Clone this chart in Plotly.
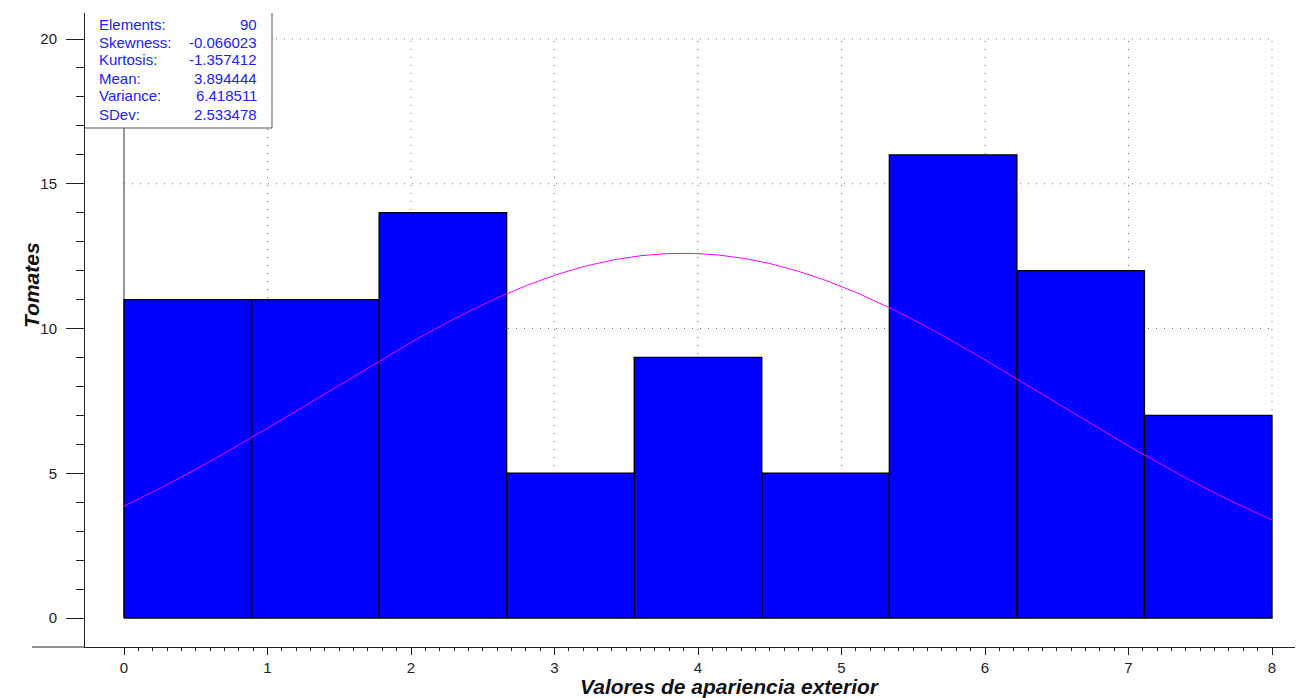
import numpy as np
import plotly.graph_objects as go

# Histogram of exterior-appearance scores for 90 tomatoes
bin_start = 0.0
bin_end = 8.0
counts = [11, 11, 14, 5, 9, 5, 16, 12, 7]

# Summary statistics panel
stat_names = ["Elements:", "Skewness:", "Kurtosis:", "Mean:", "Variance:", "SDev:"]
stat_values = ["90", "-0.066023", "-1.357412", "3.894444", "6.418511", "2.533478"]

x_ticks = [0, 1, 2, 3, 4, 5, 6, 7, 8]
y_ticks = [0, 5, 10, 15, 20]

x_title = "Valores de apariencia exterior"
y_title = "Tomates"

# ---- figure geometry (pixels) ----
W, H = 1308, 698
ML, MR, MT, MB = 85, 13, 13, 51
PW, PH = W - ML - MR, H - MT - MB

def px_to_paper_x(px):
    return (px - ML) / PW

def px_to_paper_y(py):
    return (H - MB - py) / PH

n_bins = len(counts)
edges = np.linspace(bin_start, bin_end, n_bins + 1)
width = edges[1] - edges[0]
centers = (edges[:-1] + edges[1:]) / 2

n_total = int(stat_values[0])
mean = float(stat_values[3])
sdev = float(stat_values[5])
xc = np.linspace(bin_start, bin_end, 400)
yc = n_total * width * np.exp(-0.5 * ((xc - mean) / sdev) ** 2) / (sdev * np.sqrt(2 * np.pi))

# outline of every bar as a closed rectangle, separated by gaps
ox, oy = [], []
for lo, hi, c in zip(edges[:-1], edges[1:], counts):
    ox += [lo, lo, hi, hi, lo, None]
    oy += [0, c, c, 0, 0, None]

fig = go.Figure()
fig.add_trace(go.Bar(
    x=centers, y=counts, width=width,
    marker=dict(color="#0000FF", line=dict(width=0)),
    hoverinfo="x+y",
))
fig.add_trace(go.Scatter(
    x=ox, y=oy, mode="lines",
    line=dict(color="#000000", width=1.3),
    hoverinfo="skip", connectgaps=False,
))
fig.add_trace(go.Scatter(
    x=xc, y=yc, mode="lines",
    line=dict(color="#FF00FF", width=1),
    hoverinfo="skip",
))

shapes = []
grid_style = dict(color="#666666", width=1, dash="1px,7px")
for v in y_ticks[1:]:
    shapes.append(dict(type="line", xref="x", yref="y", x0=x_ticks[0], x1=x_ticks[-1],
                       y0=v, y1=v, line=grid_style, layer="below"))
for v in x_ticks[1:]:
    shapes.append(dict(type="line", xref="x", yref="y", x0=v, x1=v,
                       y0=y_ticks[0], y1=y_ticks[-1], line=grid_style, layer="below"))
# solid line at the origin of the x scale
shapes.append(dict(type="line", xref="x", yref="y", x0=x_ticks[0], x1=x_ticks[0],
                   y0=y_ticks[0], y1=y_ticks[-1], line=dict(color="#333333", width=1),
                   layer="below"))
# x axis line continues to the left of the y axis
shapes.append(dict(type="line", xref="paper", yref="paper", x0=px_to_paper_x(32), x1=0,
                   y0=0, y1=0, line=dict(color="#222222", width=1)))

# statistics panel
bx0, bx1 = px_to_paper_x(ML), px_to_paper_x(272)
by0, by1 = px_to_paper_y(128), 1.0
shapes.append(dict(type="rect", xref="paper", yref="paper", x0=bx0, x1=bx1, y0=by0, y1=by1,
                   fillcolor="white", line=dict(width=0), layer="above"))
shapes.append(dict(type="path", xref="paper", yref="paper",
                   path=f"M {bx1} {by1} L {bx1} {by0} L {bx0} {by0}",
                   line=dict(color="#555555", width=1), layer="above"))

annotations = []
stat_font = dict(family="Liberation Sans, Arial", size=15, color="#2020ff")
for i, (name, val) in enumerate(zip(stat_names, stat_values)):
    ypos = px_to_paper_y(24 + 18 * i)
    annotations.append(dict(xref="paper", yref="paper", x=px_to_paper_x(97), y=ypos,
                            text=name, showarrow=False, xanchor="left", yanchor="middle",
                            font=stat_font))
    annotations.append(dict(xref="paper", yref="paper", x=px_to_paper_x(259), y=ypos,
                            text=val, showarrow=False, xanchor="right", yanchor="middle",
                            font=stat_font))

title_font = dict(family="Liberation Sans, Arial", size=21, color="#111111",
                  weight="bold", style="italic")
annotations.append(dict(xref="paper", yref="paper", x=px_to_paper_x(730), y=px_to_paper_y(686),
                        text=x_title, showarrow=False, xanchor="center", yanchor="middle",
                        font=title_font))
annotations.append(dict(xref="paper", yref="paper", x=px_to_paper_x(31), y=px_to_paper_y(285),
                        text=y_title, showarrow=False, xanchor="center", yanchor="middle",
                        textangle=-90, font=title_font))

# axis ranges so that the data window sits where it should in the frame
x_px0, x_px1 = 124, 1272
y_px0, y_px1 = 618, 39
xs = (x_ticks[-1] - x_ticks[0]) / (x_px1 - x_px0)
ys = (y_ticks[-1] - y_ticks[0]) / (y_px0 - y_px1)
x_range = [x_ticks[0] - (x_px0 - ML) * xs, x_ticks[-1] + (W - MR - x_px1) * xs]
y_range = [y_ticks[0] - (H - MB - y_px0) * ys, y_ticks[-1] + (y_px1 - MT) * ys]

x_minor = [round(v, 1) for v in np.arange(0, 80 + 1) / 10 if abs(v - round(v)) > 1e-9]
y_minor = [v for v in range(y_ticks[0], y_ticks[-1] + 1) if v % 5 != 0]

tick_font = dict(family="Liberation Sans, Arial", size=15, color="#222222")
fig.update_layout(
    width=W, height=H,
    margin=dict(l=ML, r=MR, t=MT, b=MB, pad=0),
    paper_bgcolor="white", plot_bgcolor="white",
    showlegend=False,
    bargap=0,
    shapes=shapes,
    annotations=annotations,
    xaxis=dict(
        range=x_range, showgrid=False, zeroline=False,
        showline=True, linecolor="#222222", linewidth=1,
        tickmode="array", tickvals=x_ticks, ticktext=[str(t) for t in x_ticks],
        ticks="outside", ticklen=7, tickcolor="#222222", tickwidth=1,
        tickfont=tick_font,
        minor=dict(tickmode="array", tickvals=x_minor, ticks="outside", ticklen=3,
                   tickcolor="#222222", tickwidth=1, showgrid=False),
    ),
    yaxis=dict(
        range=y_range, showgrid=False, zeroline=False,
        showline=True, linecolor="#222222", linewidth=1,
        tickmode="array", tickvals=y_ticks, ticktext=[str(t) for t in y_ticks],
        ticks="outside", ticklen=18, tickcolor="#222222", tickwidth=1,
        tickfont=tick_font, ticklabelstandoff=6,
        minor=dict(tickmode="array", tickvals=y_minor, ticks="outside", ticklen=8,
                   tickcolor="#222222", tickwidth=1, showgrid=False),
    ),
)

fig.write_html("out.html")
